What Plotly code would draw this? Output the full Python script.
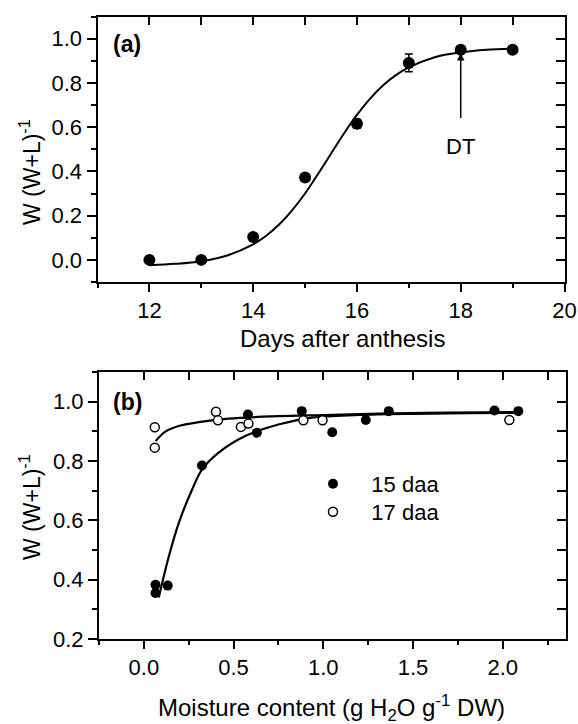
import plotly.graph_objects as go

# ---------------- Data: panel (a) ----------------
days = [12, 13, 14, 15, 16, 17, 18, 19]
ratio_a = [0.0, 0.0, 0.103, 0.372, 0.615, 0.89, 0.95, 0.95]
err_a = [0.0, 0.0, 0.0, 0.015, 0.02, 0.04, 0.0, 0.0]

# fitted curve
fit_days = [12, 12.5, 13, 13.5, 14, 14.25, 14.5, 14.75, 15, 15.25, 15.5, 15.75,
            16, 16.25, 16.5, 16.75, 17, 17.5, 18, 18.5, 19]
fit_a = [-0.024, -0.018, -0.006, 0.02, 0.07, 0.109, 0.16, 0.224, 0.30, 0.388, 0.48, 0.571,
         0.655, 0.728, 0.788, 0.835, 0.87, 0.916, 0.938, 0.95, 0.955]

# ---------------- Data: panel (b) ----------------
mc_15 = [0.065, 0.065, 0.133, 0.324, 0.58, 0.63, 0.88, 1.05, 1.237, 1.365, 1.954, 2.087]
r_15 = [0.383, 0.355, 0.38, 0.785, 0.957, 0.895, 0.968, 0.897, 0.938, 0.968, 0.97, 0.968]
mc_17 = [0.061, 0.061, 0.402, 0.413, 0.541, 0.583, 0.889, 0.996, 2.037]
r_17 = [0.914, 0.845, 0.966, 0.937, 0.915, 0.926, 0.937, 0.937, 0.938]

fit_mc_15 = [0.083, 0.139, 0.194, 0.269, 0.324, 0.417, 0.565, 0.75, 0.935, 1.2, 1.5, 1.8, 2.09]
fit_r_15 = [0.34, 0.478, 0.59, 0.704, 0.771, 0.828, 0.884, 0.923, 0.946, 0.955, 0.959, 0.961, 0.962]
fit_mc_17 = [0.065, 0.12, 0.194, 0.306, 0.472, 0.75, 1.0, 1.31, 1.7, 2.09]
fit_r_17 = [0.867, 0.899, 0.918, 0.931, 0.943, 0.951, 0.955, 0.96, 0.963, 0.965]

legend_names = ["15 daa", "17 daa"]

# axis ranges
range_days = [11, 20]
range_ratio_a = [-0.1, 1.1]
range_mc = [-0.25, 2.35]
range_ratio_b = [0.2, 1.1]

W, H = 578, 724
FONT = "Liberation Sans, Arial, Helvetica, sans-serif"
TICKF = dict(family=FONT, size=22, color="black")

fig = go.Figure()

# panel (a)
fig.add_trace(go.Scatter(x=fit_days, y=fit_a, mode="lines", line=dict(color="black", width=2, shape="spline"),
                         xaxis="x", yaxis="y", showlegend=False, hoverinfo="skip"))
fig.add_trace(go.Scatter(x=days, y=ratio_a, mode="markers",
                         marker=dict(color="black", size=12),
                         error_y=dict(type="data", array=err_a, color="black", thickness=1.5, width=4),
                         xaxis="x", yaxis="y", showlegend=False))

# panel (b)
fig.add_trace(go.Scatter(x=fit_mc_15, y=fit_r_15, mode="lines", line=dict(color="black", width=2.2, shape="spline"),
                         xaxis="x2", yaxis="y2", showlegend=False, hoverinfo="skip"))
fig.add_trace(go.Scatter(x=fit_mc_17, y=fit_r_17, mode="lines", line=dict(color="black", width=2.2, shape="spline"),
                         xaxis="x2", yaxis="y2", showlegend=False, hoverinfo="skip"))
fig.add_trace(go.Scatter(x=mc_15, y=r_15, mode="markers", name="\u00a0\u00a0\u00a0" + legend_names[0],
                         marker=dict(color="black", size=10), legend="legend",
                         xaxis="x2", yaxis="y2"))
fig.add_trace(go.Scatter(x=mc_17, y=r_17, mode="markers", name="\u00a0\u00a0\u00a0" + legend_names[1],
                         marker=dict(color="white", size=9, symbol="circle", line=dict(color="black", width=1.5)),
                         legend="legend2", xaxis="x2", yaxis="y2"))

# invisible carriers so the mirrored (top/right) frame axes are drawn
fig.add_trace(go.Scatter(x=[range_days[0]], y=[range_ratio_a[0]], xaxis="x3", yaxis="y3", mode="markers",
                         marker=dict(opacity=0), showlegend=False, hoverinfo="skip"))
fig.add_trace(go.Scatter(x=[range_mc[0]], y=[range_ratio_b[0]], xaxis="x4", yaxis="y4", mode="markers",
                         marker=dict(opacity=0), showlegend=False, hoverinfo="skip"))


def px_x(a, b):
    return [a / W, b / W]


def px_y(top, bottom):
    return [1 - bottom / H, 1 - top / H]


ax_common = dict(showline=True, linecolor="black", linewidth=2, showgrid=False, zeroline=False,
                 tickcolor="black", tickwidth=2, tickfont=TICKF, fixedrange=True)

xa_dom = px_x(97.5, 564.5)
ya_dom = px_y(16.5, 282)
xb_dom = px_x(99, 565.5)
yb_dom = px_y(372, 639)

leg_common = dict(xanchor="left", yanchor="middle", bgcolor="rgba(0,0,0,0)",
                  font=dict(family=FONT, size=22, color="black"), tracegroupgap=0)

fig.update_layout(
    width=W, height=H, margin=dict(l=0, r=0, t=0, b=0, autoexpand=False),
    paper_bgcolor="white", plot_bgcolor="white",
    font=dict(family=FONT, size=22, color="black"),
    xaxis=dict(domain=xa_dom, anchor="y", range=range_days, tick0=0, dtick=2, ticks="outside", ticklen=8,
               minor=dict(dtick=1, tick0=0, ticks="outside", ticklen=4, tickwidth=2, tickcolor="black"),
               **ax_common),
    yaxis=dict(domain=ya_dom, anchor="x", range=range_ratio_a, tick0=0, dtick=0.2, tickformat=".1f",
               ticks="outside", ticklen=9,
               minor=dict(dtick=0.1, tick0=0, ticks="outside", ticklen=5, tickwidth=2, tickcolor="black"),
               **ax_common),
    xaxis3=dict(domain=xa_dom, anchor="y3", overlaying="x", side="top", range=range_days, tick0=0, dtick=1,
                ticks="inside", ticklen=8, showticklabels=False, **ax_common),
    yaxis3=dict(domain=ya_dom, anchor="x3", overlaying="y", side="right", range=range_ratio_a, tick0=0, dtick=0.1,
                ticks="inside", ticklen=9, showticklabels=False, **ax_common),
    xaxis2=dict(domain=xb_dom, anchor="y2", range=range_mc, tick0=0, dtick=0.5, tickformat=".1f",
                ticks="outside", ticklen=8,
                minor=dict(dtick=0.25, tick0=0, ticks="outside", ticklen=4, tickwidth=2, tickcolor="black"),
                **ax_common),
    yaxis2=dict(domain=yb_dom, anchor="x2", range=range_ratio_b, tick0=0, dtick=0.2, tickformat=".1f",
                ticks="outside", ticklen=9,
                minor=dict(dtick=0.1, tick0=0, ticks="outside", ticklen=5, tickwidth=2, tickcolor="black"),
                **ax_common),
    xaxis4=dict(domain=xb_dom, anchor="y4", overlaying="x2", side="top", range=range_mc, tick0=0, dtick=0.25,
                ticks="inside", ticklen=8, showticklabels=False, **ax_common),
    yaxis4=dict(domain=yb_dom, anchor="x4", overlaying="y2", side="right", range=range_ratio_b, tick0=0, dtick=0.1,
                ticks="inside", ticklen=9, showticklabels=False, **ax_common),
    legend=dict(x=313 / W, y=1 - 484 / H, **leg_common),
    legend2=dict(x=313 / W, y=1 - 512 / H, **leg_common),
    showlegend=True,
)

ann = [
    dict(text="<b>(a)</b>", xref="paper", yref="paper", x=127 / W, y=1 - 44 / H, showarrow=False,
         font=dict(family=FONT, size=23), xanchor="center", yanchor="middle"),
    dict(text="<b>(b)</b>", xref="paper", yref="paper", x=127 / W, y=1 - 402 / H, showarrow=False,
         font=dict(family=FONT, size=23), xanchor="center", yanchor="middle"),
    dict(text="Days after anthesis", xref="paper", yref="paper", x=342 / W, y=1 - 338 / H, showarrow=False,
         font=dict(family=FONT, size=24), xanchor="center", yanchor="middle"),
    dict(text="Moisture content (g H<sub>2</sub>O g<sup>-1</sup> DW)", xref="paper", yref="paper",
         x=331 / W, y=1 - 708 / H, showarrow=False,
         font=dict(family=FONT, size=24), xanchor="center", yanchor="middle"),
    dict(text="W (W+L)<sup>-1</sup>", xref="paper", yref="paper", x=30 / W, y=1 - 172 / H, showarrow=False,
         textangle=-90, font=dict(family=FONT, size=23), xanchor="center", yanchor="middle"),
    dict(text="W (W+L)<sup>-1</sup>", xref="paper", yref="paper", x=30 / W, y=1 - 507 / H, showarrow=False,
         textangle=-90, font=dict(family=FONT, size=23), xanchor="center", yanchor="middle"),
    dict(text="DT", xref="x", yref="y", x=18, y=0.513, showarrow=False,
         font=dict(family=FONT, size=22), xanchor="center", yanchor="middle"),
    dict(text="", xref="x", yref="y", x=18, y=0.935, ax=18, ay=0.635, axref="x", ayref="y",
         showarrow=True, arrowhead=2, arrowsize=1, arrowwidth=1.5, arrowcolor="black"),
]
fig.update_layout(annotations=ann)

fig.write_html(
    "out.html",
    config={"displayModeBar": False},
    post_script="document.body.style.margin='0';document.body.style.overflow='hidden';",
)
